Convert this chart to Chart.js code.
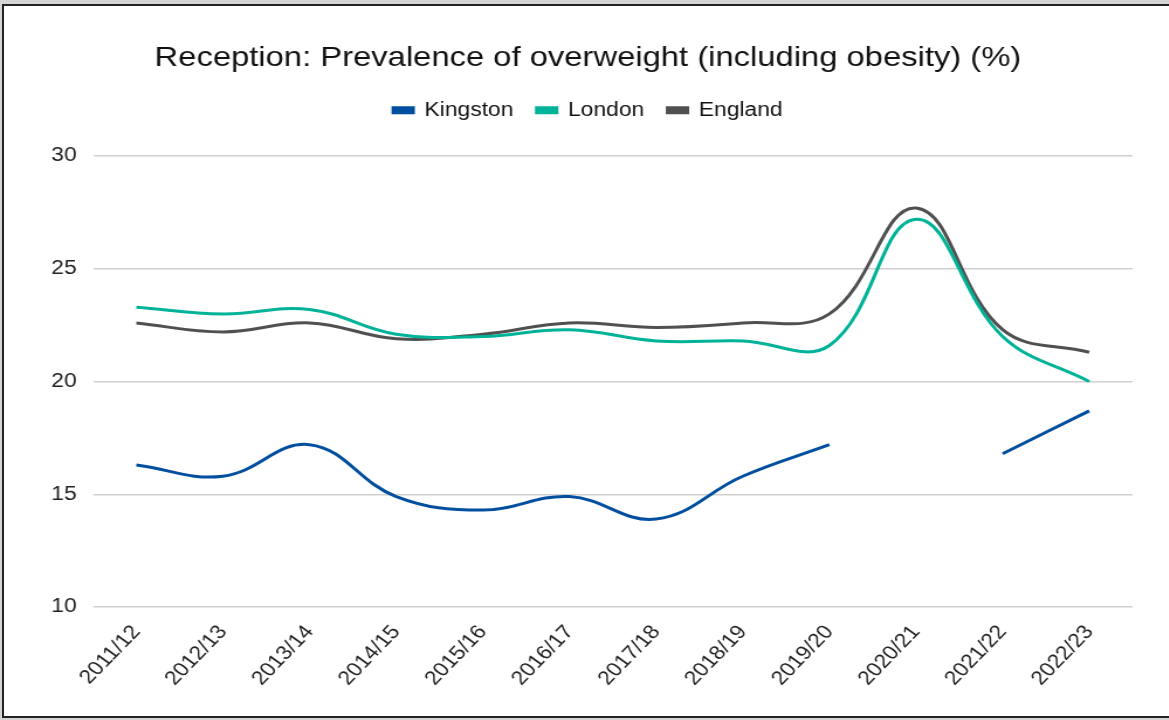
<!DOCTYPE html>
<html>
<head>
<meta charset="utf-8">
<script src="https://cdn.jsdelivr.net/npm/chart.js@4.4.1/dist/chart.umd.min.js"></script>
<style>
  html, body { margin: 0; padding: 0; background: #d4d4d4; overflow: hidden; }
  .frame {
    position: absolute; left: 2px; top: 4px; width: 1180px; height: 710px;
    border: 2px solid #222; background: #fff;
  }
  /* the chart is laid out narrower and stretched to the full width */
  .chart-box {
    position: absolute; left: 0; top: 0; width: 999px; height: 720px;
    transform: scaleX(1.17); transform-origin: 0 0;
  }
</style>
</head>
<body>
<div class="frame"></div>
<div class="chart-box"><canvas id="overweight-chart"></canvas></div>
<script>
(function () {
  'use strict';

  const years = ['2011/12', '2012/13', '2013/14', '2014/15', '2015/16', '2016/17',
                 '2017/18', '2018/19', '2019/20', '2020/21', '2021/22', '2022/23'];
  // no Kingston figure published for 2020/21
  const kingston = [16.3, 15.8, 17.2, 14.9, 14.3, 14.9, 13.9, 15.8, 17.2, null, 16.8, 18.7];
  const london   = [23.3, 23.0, 23.2, 22.1, 22.0, 22.3, 21.8, 21.8, 21.6, 27.2, 22.0, 20.0];
  const england  = [22.6, 22.2, 22.6, 21.9, 22.1, 22.6, 22.4, 22.6, 23.0, 27.7, 22.3, 21.3];
  const yTicks = [10, 15, 20, 25, 30];

  const fontFamily = '"Liberation Sans", Arial, sans-serif';

  function series(label, data, color) {
    return {
      label: label,
      data: data,
      borderColor: color,
      backgroundColor: color,
      borderWidth: 3,
      pointRadius: 0,
      pointHoverRadius: 0,
      tension: 0.4,
      spanGaps: false,
      fill: false
    };
  }

  // empty box between the legend and the plot, keeps the top gridline lower
  const legendSpacer = {
    id: 'legendSpacer',
    beforeInit: function (chart) {
      Chart.layouts.addBox(chart, {
        position: 'top',
        weight: 0,
        fullSize: true,
        options: {},
        width: 0,
        height: 0,
        update: function (maxWidth) { this.width = maxWidth; this.height = 26; },
        isHorizontal: function () { return true; },
        draw: function () {}
      });
    }
  };

  const ctx = document.getElementById('overweight-chart');
  new Chart(ctx, {
    type: 'line',
    data: {
      labels: years,
      datasets: [
        series('Kingston', kingston, '#004f9e'),
        series('London', london, '#00b398'),
        series('England', england, '#505050')
      ]
    },
    options: {
      responsive: true,
      maintainAspectRatio: false,
      animation: false,
      layout: {
        padding: { left: 37, right: 31, top: 10, bottom: 8 }
      },
      scales: {
        x: {
          offset: true,
          grid: { display: false },
          border: { display: false },
          ticks: {
            color: '#222',
            font: { family: fontFamily, size: 19.5 },
            minRotation: 50,
            maxRotation: 50,
            padding: 6
          },
          afterFit: function (scale) { scale.height = 105; }
        },
        y: {
          min: 10,
          max: 30,
          afterBuildTicks: function (scale) {
            scale.ticks = yTicks.map(v => ({ value: v }));
          },
          grid: { color: '#d0d0d0', lineWidth: 1.5, drawTicks: false },
          border: { display: false },
          ticks: {
            color: '#222',
            font: { family: fontFamily, size: 19.5 },
            padding: 14
          },
          afterFit: function (scale) { scale.width = 42.5; }
        }
      },
      plugins: {
        title: {
          display: true,
          text: 'Reception: Prevalence of overweight (including obesity) (%)',
          color: '#111',
          font: { family: fontFamily, size: 28, weight: 'normal' },
          padding: { top: 31, bottom: 6 }
        },
        legend: {
          display: true,
          labels: {
            color: '#111',
            font: { family: fontFamily, size: 19.5 },
            boxWidth: 17,
            boxHeight: 5,
            padding: 20
          }
        },
        tooltip: { enabled: false }
      }
    },
    plugins: [legendSpacer]
  });
})();
</script>
</body>
</html>
